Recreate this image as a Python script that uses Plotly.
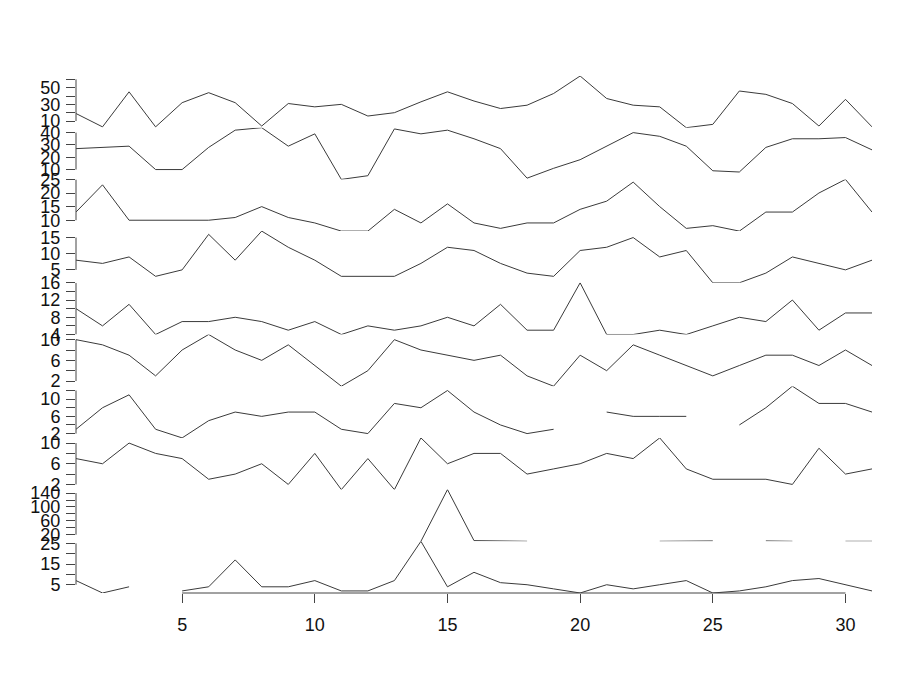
import plotly.graph_objects as go
from plotly.subplots import make_subplots

days = list(range(1, 32))

s1 = [19, 3, 45, 3, 32, 44, 32, 4, 31, 27, 30, 16, 20, 33, 45, 34, 25, 29, 43, 64, 37, 29, 27, 2, 6, 46, 42, 31, 4, 36, 3]
s2 = [27, 28, 29, 10, 10, 28, 42, 44, 29, 39, 2, 5, 43, 39, 42, 35, 27, 3, 11, 18, 29, 40, 37, 29, 9, 8, 28, 35, 35, 36, 26]
s3 = [13, 23, 10, 10, 10, 10, 11, 15, 11, 9, 6, 6, 14, 9, 16, 9, 7, 9, 9, 14, 17, 24, 15, 7, 8, 6, 13, 13, 20, 25, 13]
s4 = [8, 7, 9, 3, 5, 16, 8, 17, 12, 8, 3, 3, 3, 7, 12, 11, 7, 4, 3, 11, 12, 15, 9, 11, 1, 1, 4, 9, 7, 5, 8]
s5 = [10, 6, 11, 4, 7, 7, 8, 7, 5, 7, 4, 6, 5, 6, 8, 6, 11, 5, 5, 16, 4, 4, 5, 4, 6, 8, 7, 12, 5, 9, 9]
s6 = [10, 9, 7, 3, 8, 11, 8, 6, 9, 5, 1, 4, 10, 8, 7, 6, 7, 3, 1, 7, 4, 9, 7, 5, 3, 5, 7, 7, 5, 8, 5]
s7 = [3, 8, 11, 3, 1, 5, 7, 6, 7, 7, 3, 2, 9, 8, 12, 7, 4, 2, 3, None, 7, 6, 6, 6, None, 4, 8, 13, 9, 9, 7]
s8 = [7, 6, 10, 8, 7, 3, 4, 6, 2, 8, 1, 7, 1, 11, 6, 8, 8, 4, 5, 6, 8, 7, 11, 5, 3, 3, 3, 2, 9, 4, 5]
s9 = [None] * 13 + [1, 150, 3, 2, 1] + [None] * 4 + [1, 2, 2, None, 2, 1, None, 1, 1]
s10 = [7, 1, 4, None, 2, 4, 17, 4, 4, 7, 2, 2, 7, 26, 4, 11, 6, 5, 3, 1, 5, 3, 5, 7, 1, 2, 4, 7, 8, 5, 2]

series = [s1, s2, s3, s4, s5, s6, s7, s8, s9, s10]

y_ticks = [
    [10, 20, 30, 40, 50, 60],
    [10, 20, 30, 40],
    [10, 15, 20, 25],
    [5, 10, 15],
    [4, 6, 8, 10, 12, 14, 16],
    [2, 4, 6, 8, 10],
    [2, 4, 6, 8, 10, 12],
    [2, 4, 6, 8, 10],
    [20, 40, 60, 80, 100, 120, 140],
    [5, 10, 15, 20, 25],
]
y_labels = [
    [10, 30, 50],
    [10, 20, 30, 40],
    [10, 15, 20, 25],
    [5, 10, 15],
    [4, 8, 12, 16],
    [2, 6, 10],
    [2, 6, 10],
    [2, 6, 10],
    [20, 60, 100, 140],
    [5, 15, 25],
]
x_ticks = [5, 10, 15, 20, 25, 30]

n = len(series)
fig = make_subplots(rows=n, cols=1, shared_xaxes=True, vertical_spacing=0)

line_col = "#3a3a3a"
axis_col = "#444444"
font = dict(family="Liberation Sans, Arial, sans-serif", size=18, color="#111111")

for i, s in enumerate(series):
    r = i + 1
    fig.add_trace(go.Scatter(x=days, y=s, mode="lines", line=dict(color=line_col, width=1),
                             connectgaps=False, showlegend=False, hoverinfo="skip"), row=r, col=1)
    vals = [v for v in s if v is not None]
    lo, hi = min(vals), max(vals)
    fig.update_yaxes(row=r, col=1, range=[lo, hi], tickmode="array", tickvals=y_ticks[i],
                     ticktext=[str(t) if t in y_labels[i] else "" for t in y_ticks[i]],
                     ticks="outside", ticklen=9, tickcolor=axis_col, tickwidth=1,
                     ticklabelstandoff=2,
                     showline=False, showgrid=False, zeroline=False, tickfont=font)
    yref = "y" if r == 1 else f"y{r}"
    fig.add_shape(type="line", xref="paper", yref=yref, x0=0, x1=0,
                  y0=y_ticks[i][0], y1=y_ticks[i][-1], line=dict(color=axis_col, width=1))
    fig.update_xaxes(row=r, col=1, range=[1, 31], showgrid=False, zeroline=False, showline=False,
                     showticklabels=(r == n), ticks=("outside" if r == n else ""),
                     tickmode="array", tickvals=x_ticks, ticklen=9, tickcolor=axis_col,
                     ticklabelstandoff=6, tickfont=font)

fig.add_shape(type="line", xref=f"x{n}", yref="paper", x0=x_ticks[0], x1=x_ticks[-1],
              y0=0, y1=0, line=dict(color=axis_col, width=1))

fig.update_layout(width=912, height=690, margin=dict(l=68, r=48, t=68, b=105),
                  paper_bgcolor="white", plot_bgcolor="white", showlegend=False)

fig.write_html("out.html")
